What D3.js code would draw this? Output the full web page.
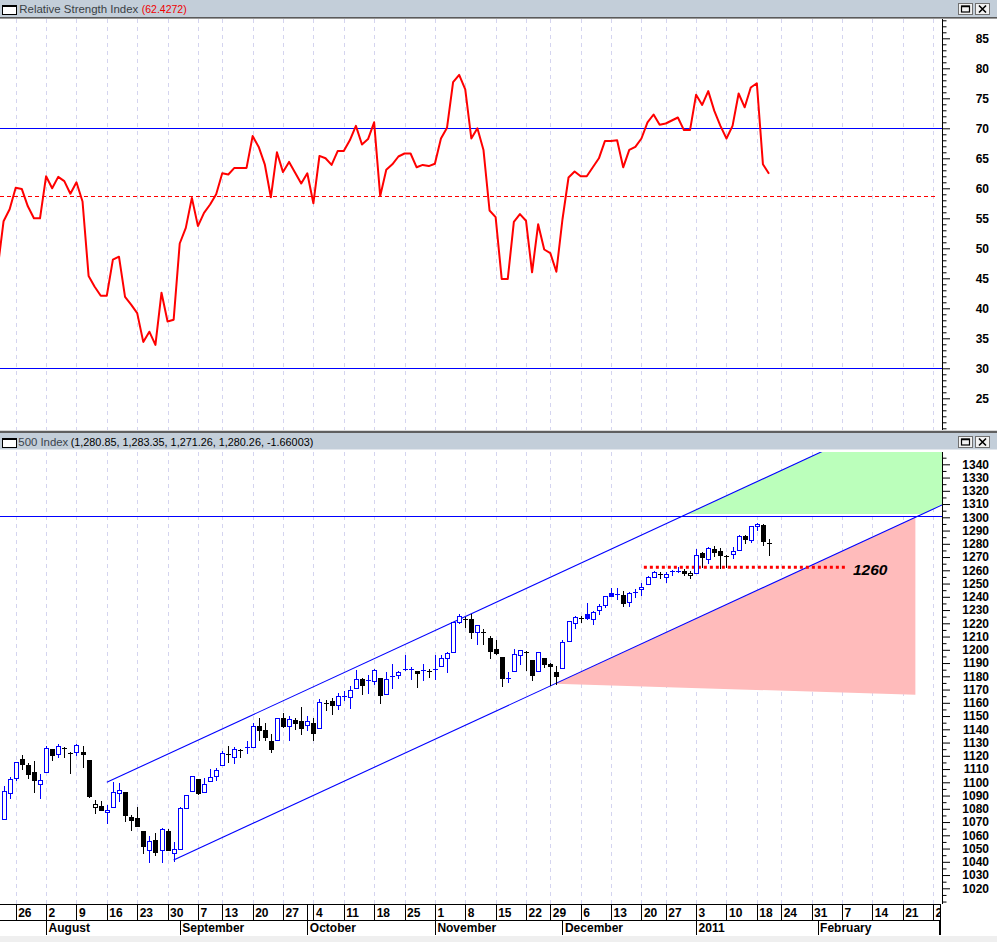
<!DOCTYPE html>
<html><head><meta charset="utf-8">
<script src="https://cdn.jsdelivr.net/npm/d3@7"></script>
<style>
html,body{margin:0;padding:0;background:#fff;}
svg{display:block;}
</style></head><body>
<svg id="chart" width="997" height="942"></svg>
<script>
// ---------------- DATA ----------------
const dates = [
"2010-07-21","2010-07-22","2010-07-23","2010-07-26","2010-07-27","2010-07-28","2010-07-29","2010-07-30",
"2010-08-02","2010-08-03","2010-08-04","2010-08-05","2010-08-06","2010-08-09","2010-08-10","2010-08-11","2010-08-12","2010-08-13",
"2010-08-16","2010-08-17","2010-08-18","2010-08-19","2010-08-20","2010-08-23","2010-08-24","2010-08-25","2010-08-26","2010-08-27","2010-08-30","2010-08-31",
"2010-09-01","2010-09-02","2010-09-03","2010-09-07","2010-09-08","2010-09-09","2010-09-10","2010-09-13","2010-09-14","2010-09-15","2010-09-16","2010-09-17",
"2010-09-20","2010-09-21","2010-09-22","2010-09-23","2010-09-24","2010-09-27","2010-09-28","2010-09-29","2010-09-30",
"2010-10-01","2010-10-04","2010-10-05","2010-10-06","2010-10-07","2010-10-08","2010-10-11","2010-10-12","2010-10-13","2010-10-14","2010-10-15",
"2010-10-18","2010-10-19","2010-10-20","2010-10-21","2010-10-22","2010-10-25","2010-10-26","2010-10-27","2010-10-28","2010-10-29",
"2010-11-01","2010-11-02","2010-11-03","2010-11-04","2010-11-05","2010-11-08","2010-11-09","2010-11-10","2010-11-11","2010-11-12",
"2010-11-15","2010-11-16","2010-11-17","2010-11-18","2010-11-19","2010-11-22","2010-11-23","2010-11-24","2010-11-26","2010-11-29","2010-11-30",
"2010-12-01","2010-12-02","2010-12-03","2010-12-06","2010-12-07","2010-12-08","2010-12-09","2010-12-10","2010-12-13","2010-12-14","2010-12-15","2010-12-16","2010-12-17",
"2010-12-20","2010-12-21","2010-12-22","2010-12-23","2010-12-27","2010-12-28","2010-12-29","2010-12-30","2010-12-31",
"2011-01-03","2011-01-04","2011-01-05","2011-01-06","2011-01-07","2011-01-10","2011-01-11","2011-01-12","2011-01-13","2011-01-14",
"2011-01-18","2011-01-19","2011-01-20"];

const open = [
1086.67,1072.14,1092.17,1102.89,1117.36,1112.84,1108.07,1098.44,
1107.53,1125.34,1121.06,1125.78,1122.07,1122.80,1122.92,1116.89,1081.48,1082.22,
1077.49,1081.16,1092.08,1092.44,1073.63,1073.36,1063.20,1048.98,1056.28,1049.27,1062.90,1046.88,
1049.72,1080.66,1093.61,1102.60,1092.36,1101.15,1104.57,1113.38,1121.16,1119.43,1123.89,1126.39,
1126.57,1142.82,1139.49,1131.10,1131.69,1148.64,1142.31,1146.75,1145.97,
1143.49,1144.96,1140.68,1159.81,1161.57,1158.36,1165.32,1164.28,1171.32,1177.82,1177.47,
1176.83,1178.64,1166.74,1179.56,1180.63,1184.74,1184.88,1183.84,1184.47,1183.87,
1185.71,1187.86,1193.79,1198.34,1221.20,1223.24,1223.59,1213.14,1213.04,1209.07,
1200.44,1194.79,1178.33,1183.75,1196.12,1198.07,1192.51,1183.70,1194.16,1189.08,1182.96,
1186.60,1206.81,1219.93,1223.87,1227.25,1223.24,1230.14,1233.85,1242.52,1241.84,1241.58,1236.34,1243.63,
1245.76,1249.43,1254.94,1257.53,1254.66,1259.10,1258.78,1259.44,1256.76,
1257.62,1272.95,1268.78,1276.29,1274.41,1270.84,1272.58,1275.65,1285.78,1282.90,
1293.22,1294.52,1280.85];

const high = [
1088.96,1097.50,1103.73,1115.20,1120.95,1114.66,1115.90,1106.44,
1127.30,1125.44,1128.75,1126.56,1123.06,1129.24,1127.16,1116.89,1086.72,1086.25,
1082.62,1100.14,1099.77,1092.44,1075.63,1081.58,1063.20,1059.38,1061.45,1065.21,1064.40,1055.14,
1081.30,1090.10,1105.10,1102.60,1103.26,1110.27,1110.88,1123.87,1127.36,1126.46,1125.44,1131.47,
1144.86,1148.59,1144.38,1136.77,1148.90,1152.38,1150.00,1148.63,1157.16,
1150.30,1148.16,1162.76,1162.33,1163.87,1167.73,1168.68,1172.58,1184.38,1178.89,1181.20,
1185.53,1178.64,1182.94,1189.43,1183.93,1196.14,1187.11,1183.84,1189.53,1185.46,
1195.81,1195.88,1198.30,1221.25,1227.08,1224.57,1226.84,1218.75,1215.45,1210.50,
1207.43,1194.79,1183.56,1200.29,1199.97,1198.94,1192.51,1198.62,1194.16,1190.34,1187.40,
1207.61,1221.89,1225.57,1225.80,1235.05,1228.93,1234.71,1240.40,1246.73,1246.59,1244.25,1243.75,1245.81,
1250.20,1255.82,1259.39,1258.59,1258.43,1259.90,1262.60,1261.09,1259.34,
1276.17,1274.12,1277.63,1278.17,1276.83,1271.52,1277.25,1286.87,1286.70,1293.24,
1296.06,1294.60,1283.35];

const low = [
1065.25,1072.14,1087.88,1101.83,1109.78,1103.11,1092.82,1088.01,
1107.53,1116.76,1119.46,1118.81,1107.17,1120.91,1111.58,1088.55,1076.69,1079.00,
1069.49,1081.16,1085.76,1070.66,1063.91,1067.08,1046.68,1039.83,1045.40,1039.70,1048.79,1040.88,
1049.72,1080.39,1093.61,1091.15,1092.36,1101.15,1101.81,1113.38,1115.58,1114.63,1118.88,1122.43,
1126.57,1131.87,1131.58,1122.79,1131.69,1141.68,1132.09,1140.26,1136.08,
1139.42,1131.87,1140.68,1154.85,1151.41,1155.58,1162.02,1155.71,1171.32,1166.71,1167.12,
1174.55,1159.71,1166.74,1171.17,1178.99,1184.74,1177.72,1171.70,1177.10,1179.70,
1177.65,1187.86,1183.56,1198.34,1220.29,1217.55,1208.94,1204.33,1204.49,1194.08,
1197.15,1173.00,1175.82,1183.75,1189.44,1184.58,1176.91,1183.70,1186.93,1173.64,1174.14,
1186.60,1206.81,1216.82,1220.67,1223.25,1219.50,1226.85,1232.58,1240.34,1238.17,1232.85,1232.85,1239.87,
1241.51,1249.43,1254.94,1254.05,1251.48,1256.22,1258.78,1256.32,1254.19,
1257.62,1262.66,1265.36,1270.43,1261.70,1262.18,1269.62,1275.65,1280.47,1281.24,
1290.16,1278.92,1271.26];

const close = [
1069.59,1093.67,1102.66,1115.01,1113.84,1106.13,1101.53,1101.60,
1125.86,1120.46,1127.24,1125.81,1121.64,1127.79,1121.06,1089.47,1083.61,1079.25,
1079.38,1092.54,1094.16,1075.63,1071.69,1067.36,1051.87,1055.33,1047.22,1064.59,1048.92,1049.33,
1080.29,1090.10,1104.51,1091.84,1098.87,1104.18,1109.55,1121.90,1121.10,1125.07,1124.66,1125.59,
1142.71,1139.78,1134.28,1124.83,1148.67,1142.16,1147.70,1144.73,1141.20,
1146.24,1137.03,1160.75,1159.97,1158.06,1165.15,1165.32,1169.77,1178.10,1173.81,1176.19,
1184.71,1165.90,1178.17,1180.26,1183.08,1185.62,1185.64,1182.45,1183.78,1183.26,
1184.38,1193.57,1197.96,1221.06,1225.85,1223.25,1213.40,1218.71,1213.54,1199.21,
1197.75,1178.34,1178.59,1196.69,1199.73,1197.84,1180.73,1198.35,1189.40,1187.76,1180.55,
1206.07,1221.53,1224.71,1223.12,1223.75,1228.28,1233.00,1240.40,1240.46,1241.59,1235.23,1242.87,1243.91,
1247.08,1254.60,1258.84,1256.77,1257.54,1258.51,1259.78,1257.88,1257.64,
1271.87,1270.20,1276.56,1273.85,1271.50,1269.75,1274.48,1285.96,1283.76,1293.24,
1295.02,1281.92,1280.26];
const priorClose = 1083.48; // close of the session before the first candle

const rsi = [
46.4,54.5,56.5,60.1,59.9,57.0,55.0,55.0,
62.0,60.0,61.9,61.2,59.1,61.0,57.8,45.4,43.6,42.1,42.1,48.1,48.6,41.9,40.6,39.2,34.4,36.1,33.9,42.6,37.8,38.1,
50.8,53.4,58.4,53.7,55.9,57.3,59.0,62.5,62.3,63.4,63.4,63.4,68.7,66.9,64.0,58.5,66.0,62.7,64.4,62.6,60.8,
62.5,57.5,65.4,65.0,63.9,66.2,66.2,68.0,70.4,67.3,68.2,71.0,58.7,63.1,64.0,65.3,65.8,65.8,63.5,63.9,63.7,
64.1,68.3,70.1,77.7,78.9,76.5,68.3,70.0,66.4,56.3,55.2,44.9,44.9,54.4,55.7,54.6,46.0,54.0,49.8,49.2,46.1,
54.8,61.8,62.8,62.0,62.0,63.5,65.0,67.9,67.9,68.0,63.5,66.4,66.9,68.3,71.0,72.3,70.6,70.8,71.3,71.8,69.7,69.7,
75.6,73.9,76.2,72.9,70.4,68.3,70.4,75.8,73.5,76.8,77.5,64.0,62.4272];

const rsiTickLabels = [25,30,35,40,45,50,55,60,65,70,75,80,85];
const priceTickLabels = [1020,1030,1040,1050,1060,1070,1080,1090,1100,1110,1120,1130,1140,1150,1160,1170,1180,1190,
  1200,1210,1220,1230,1240,1250,1260,1270,1280,1290,1300,1310,1320,1330,1340];
const monthNames = ["January","February","March","April","May","June","July","August","September","October","November","December"];

const rsiBands = [70, 30];
const rsiSignal = 58.6;
const resistance = 1300;
const support = {from:"2010-12-20", to:"2011-02-07", price:1262.3, label:"1260"};
const upperChannel = [["2010-08-16",1100.0],["2011-01-26",1339.6]];
const lowerChannel = [["2010-08-31",1041.4],["2011-02-23",1299.8]];
const greenFloor = 1302.5;
const pinkStart = "2010-11-30";
const pinkFloorRight = 1166;

const headerRsi = {name:"Relative Strength Index", value:"(62.4272)"};
const headerPrice = {name:"500 Index", value:"(1,280.85, 1,283.35, 1,271.26, 1,280.26, -1.66003)"};

// ---------------- CALENDAR ----------------
const parse = d3.utcParse("%Y-%m-%d");
const dataDays = dates.map(parse);
const calendar = [];
let dd = parse("2010-07-19");
while (dd < dataDays[0]) { if (dd.getUTCDay() % 6) calendar.push(dd); dd = d3.utcDay.offset(dd, 1); }
const dataOffset = calendar.length;
calendar.push(...dataDays);
dd = d3.utcDay.offset(dataDays[dataDays.length - 1], 1);
const calEnd = parse("2011-03-04");
while (dd <= calEnd) { if (dd.getUTCDay() % 6) calendar.push(dd); dd = d3.utcDay.offset(dd, 1); }
const idxOf = s => calendar.findIndex(c => +c === +parse(s));

// ---------------- LAYOUT ----------------
const W = 997, H = 942, AX = 942;
const rsiTop = 19, rsiBot = 430, pTop = 452, pBot = 904;
const FONT = "Liberation Sans, Arial, Helvetica, sans-serif";
const BLUE = "#0000ff", RED = "#ff0000";

const x = d3.scaleLinear().domain([idxOf("2010-07-26"), idxOf("2011-01-20")]).range([15.7, 769]);
const yP = d3.scaleLinear().domain([1020, 1340]).range([888.3, 464.3]);
const yR = d3.scaleLinear().domain([30, 70]).range([368.3, 128.3]);

const svg = d3.select("#chart");
svg.append("rect").attr("width", W).attr("height", H).attr("fill", "#fff");
const defs = svg.append("defs");
defs.append("clipPath").attr("id", "cR").append("rect").attr("x", 0).attr("y", rsiTop).attr("width", AX).attr("height", rsiBot - rsiTop);
defs.append("clipPath").attr("id", "cP").append("rect").attr("x", 0).attr("y", pTop).attr("width", AX).attr("height", pBot - pTop);
defs.append("clipPath").attr("id", "cX").append("rect").attr("x", 0).attr("y", 900).attr("width", 941).attr("height", 40);

const crisp = v => Math.round(v) + 0.5;
const evenRow = v => 2 * Math.floor(v / 2) + 0.5;   // horizontal reference rules sit on a pixel row

const weekStarts = [], monthStarts = [];
calendar.forEach((c, i) => {
  if (i === 0 || c.getUTCDay() < calendar[i - 1].getUTCDay()) weekStarts.push(i);
  if (i > 0 && c.getUTCMonth() !== calendar[i - 1].getUTCMonth()) monthStarts.push(i);
});

// ---------------- GRID ----------------
function grid(top, bot, clip) {
  svg.append("g").attr("clip-path", `url(#${clip})`).selectAll("line").data(weekStarts).join("line")
    .attr("x1", i => crisp(x(i))).attr("x2", i => crisp(x(i)))
    .attr("y1", top).attr("y2", bot)
    .style("stroke", "#d4d4ef").style("stroke-width", 1).style("stroke-dasharray", "4,4");
}
grid(rsiTop, rsiBot, "cR");
grid(pTop, pBot, "cP");

// ---------------- RSI PANEL ----------------
const gR = svg.append("g").attr("clip-path", "url(#cR)");
gR.selectAll("line.band").data(rsiBands).join("line").attr("class", "band")
  .attr("x1", 0).attr("x2", AX).attr("y1", d => evenRow(yR(d))).attr("y2", d => evenRow(yR(d)))
  .style("stroke", BLUE).style("stroke-width", 1);
gR.append("path").datum(rsi)
  .attr("d", d3.line().x((v, k) => x(dataOffset + k)).y(v => yR(v)))
  .style("fill", "none").style("stroke", RED).style("stroke-width", 2).style("stroke-linejoin", "round");
gR.append("path").attr("class", "signal")
  .attr("d", `M0,${evenRow(yR(rsiSignal))}H938`)
  .style("fill", "none").style("stroke", RED).style("stroke-width", 1).style("stroke-dasharray", "4,3");

// ---------------- PRICE PANEL ----------------
const gP = svg.append("g").attr("clip-path", "url(#cP)");
function lineFn(anchors) {
  const i0 = idxOf(anchors[0][0]), i1 = idxOf(anchors[1][0]);
  const p0 = anchors[0][1], p1 = anchors[1][1];
  const slope = (p1 - p0) / (i1 - i0);
  return { start: i0, at: i => p0 + (i - i0) * slope, inv: p => i0 + (p - p0) / slope };
}
const up = lineFn(upperChannel), lo = lineFn(lowerChannel);
const iEnd = calendar.length + 5;
const pline = d3.line().x(d => x(d[0])).y(d => yP(d[1]));

const green = [[up.inv(greenFloor), greenFloor], [iEnd, up.at(iEnd)], [iEnd, lo.at(iEnd)], [lo.inv(greenFloor), greenFloor]];
gP.append("path").attr("d", pline(green) + "Z").style("fill", "#bbffbb").style("stroke", "none");
const pinkI0 = idxOf(pinkStart) - 0.2, pinkI1 = lo.inv(resistance);
const pink = [[pinkI0, lo.at(pinkI0)], [pinkI1, resistance], [pinkI1, pinkFloorRight]];
gP.append("path").attr("d", pline(pink) + "Z").style("fill", "#ffbbbb").style("stroke", "none");

[up, lo].forEach(L => {
  gP.append("path").attr("d", pline([[L.start, L.at(L.start)], [iEnd, L.at(iEnd)]]))
    .style("fill", "none").style("stroke", BLUE).style("stroke-width", 1.1);
});
const sI0 = idxOf(support.from) + 0.4, sI1 = idxOf(support.to) + 0.5;
gP.append("path").attr("d", `M${x(sI0)},${yP(support.price)}H${x(sI1)}`)
  .style("fill", "none").style("stroke", RED).style("stroke-width", 3).style("stroke-dasharray", "3,3");
svg.append("text").attr("x", x(sI1) + 8).attr("y", yP(support.price) + 8)
  .style("font-family", FONT).style("font-size", "15.5px").style("font-weight", "bold").style("font-style", "italic")
  .style("fill", "#000").text(support.label);

const candles = dates.map((s, k) => ({
  i: dataOffset + k, o: open[k], h: high[k], l: low[k], c: close[k],
  pc: k > 0 ? close[k - 1] : priorClose
}));
const gC = gP.append("g");
candles.forEach(d => {
  const cx = crisp(x(d.i));
  const col = d.c >= d.pc ? BLUE : "#000";
  const yo = yP(d.o), yc = yP(d.c);
  const top = Math.round(Math.min(yo, yc)), bot = Math.round(Math.max(yo, yc));
  gC.append("line").attr("x1", cx).attr("x2", cx).attr("y1", Math.round(yP(d.h))).attr("y2", Math.round(yP(d.l)) + 1)
    .style("stroke", col).style("stroke-width", 1);
  if (bot - top < 2) {
    gC.append("line").attr("x1", cx - 2.5).attr("x2", cx + 2.5).attr("y1", top + 0.5).attr("y2", top + 0.5)
      .style("stroke", col).style("stroke-width", 1);
  } else if (d.c > d.o) {
    gC.append("rect").attr("x", cx - 2).attr("y", top + 0.5).attr("width", 4).attr("height", bot - top)
      .style("fill", "#fff").style("stroke", col).style("stroke-width", 1);
  } else {
    gC.append("rect").attr("x", cx - 2.5).attr("y", top).attr("width", 5).attr("height", bot - top + 1)
      .style("fill", col);
  }
});

gP.append("path").attr("class", "resistance")
  .attr("d", `M0,${evenRow(yP(resistance))}H${AX}`)
  .style("fill", "none").style("stroke", BLUE).style("stroke-width", 1);

// ---------------- Y AXES ----------------
function yAxis(scale, labels, minorStep, top, bot) {
  const vLo = Math.min(scale.invert(top), scale.invert(bot)), vHi = Math.max(scale.invert(top), scale.invert(bot));
  const minors = d3.range(Math.ceil(vLo / minorStep) * minorStep, vHi, minorStep).filter(v => !labels.includes(v));
  const g1 = svg.append("g").attr("transform", `translate(${AX},0)`)
    .call(d3.axisRight(scale).tickValues(minors).tickSize(4.5).tickSizeOuter(0).tickFormat(""));
  g1.select(".domain").remove();
  const g2 = svg.append("g").attr("transform", `translate(${AX},0)`)
    .call(d3.axisRight(scale).tickValues(labels).tickSize(8).tickSizeOuter(0).tickFormat(d3.format("d")));
  g2.select(".domain").remove();
  g2.selectAll("text").attr("x", 47).attr("text-anchor", "end")
    .style("font-family", FONT).style("font-size", "12px").style("font-weight", "bold").style("fill", "#000");
  [g1, g2].forEach(g => g.selectAll(".tick line").style("stroke", "#000"));
  svg.append("line").attr("x1", AX + 0.5).attr("x2", AX + 0.5).attr("y1", top).attr("y2", bot).style("stroke", "#000");
}
yAxis(yR, rsiTickLabels, 1, rsiTop, rsiBot);
yAxis(yP, priceTickLabels, 5, pTop, pBot);

// ---------------- HEADERS ----------------
function header(y0, h, info, widths, valueColor, nameColor) {
  svg.append("rect").attr("x", 0).attr("y", y0).attr("width", W).attr("height", h).style("fill", "#c3ced9");
  svg.append("rect").attr("x", 2.5).attr("y", y0 + 5.5).attr("width", 14).attr("height", 9)
    .style("fill", "#fff").style("stroke", "#000").style("stroke-width", 1);
  svg.append("line").attr("x1", 2).attr("x2", 17).attr("y1", y0 + 6).attr("y2", y0 + 6).style("stroke", "#000").style("stroke-width", 2);
  svg.append("text").attr("x", widths[0]).attr("y", y0 + 13).attr("textLength", widths[1]).attr("lengthAdjust", "spacingAndGlyphs")
    .style("font-family", FONT).style("font-size", "11.5px").style("fill", nameColor).text(info.name);
  svg.append("text").attr("x", widths[2]).attr("y", y0 + 13).attr("textLength", widths[3]).attr("lengthAdjust", "spacingAndGlyphs")
    .style("font-family", FONT).style("font-size", "11.5px").style("fill", valueColor).text(info.value);
  [958.5, 975.5].forEach((bx, k) => {
    svg.append("rect").attr("x", bx).attr("y", y0 + 3.5).attr("width", 14).attr("height", 11)
      .style("fill", "#f2f2f2").style("stroke", "#707070");
    if (k === 0) {
      svg.append("rect").attr("x", bx + 3).attr("y", y0 + 6).attr("width", 8).attr("height", 6)
        .style("fill", "none").style("stroke", "#000").style("stroke-width", 1.2);
      svg.append("line").attr("x1", bx + 3).attr("x2", bx + 11).attr("y1", y0 + 6.5).attr("y2", y0 + 6.5).style("stroke", "#000").style("stroke-width", 1.5);
    } else {
      svg.append("path").attr("d", `M${bx + 3.5},${y0 + 5.5}L${bx + 10.5},${y0 + 12.5}M${bx + 10.5},${y0 + 5.5}L${bx + 3.5},${y0 + 12.5}`)
        .style("stroke", "#000").style("stroke-width", 1.6);
    }
  });
}
header(0, 17, headerRsi, [19.3, 119, 141.7, 45], "#f00000", "#3a3f45");
svg.append("rect").attr("x", 0).attr("y", 17).attr("width", W).attr("height", 1.6).style("fill", "#5a5a5a");
svg.append("rect").attr("x", 0).attr("y", 430).attr("width", W).attr("height", 1).style("fill", "#d8d8d8");
svg.append("rect").attr("x", 0).attr("y", 431).attr("width", W).attr("height", 2).style("fill", "#5f5f5f");
header(433, 16.5, headerPrice, [18.3, 50, 70.7, 242.6], "#000", "#3a444e");

// ---------------- X AXIS ----------------
const gX = svg.append("g").attr("clip-path", "url(#cX)");
const yA0 = 904, yA1 = 920, yA2 = 935;
gX.selectAll("line.m").data(monthStarts).join("line").attr("class", "m")
  .attr("x1", i => crisp(x(i))).attr("x2", i => crisp(x(i))).attr("y1", yA0).attr("y2", yA2)
  .style("stroke", "#000");
const visibleWeeks = weekStarts.filter(i => x(i) >= 0);
const wk = gX.selectAll("g.w").data(visibleWeeks).join("g").attr("class", "w");
wk.append("rect").attr("class", "bg").attr("y", yA0 + 1).attr("height", yA1 - yA0 - 1).style("fill", "#fff");
wk.append("text").attr("x", i => x(i) + 2.5).attr("y", 917)
  .style("font-family", FONT).style("font-size", "12px").style("font-weight", "bold").style("fill", "#000")
  .text(i => calendar[i].getUTCDate());
wk.each(function (i) {
  const g = d3.select(this);
  const tw = g.select("text").node().getComputedTextLength();
  g.select("rect.bg").attr("x", x(i) + 1.5).attr("width", tw + 2);
});
wk.append("line").attr("x1", i => crisp(x(i))).attr("x2", i => crisp(x(i))).attr("y1", yA0).attr("y2", yA1).style("stroke", "#000");
gX.selectAll("text.m").data(monthStarts).join("text").attr("class", "m")
  .attr("x", i => x(i) + 2.5).attr("y", 932)
  .style("font-family", FONT).style("font-size", "12px").style("font-weight", "bold").style("fill", "#000")
  .text(i => calendar[i].getUTCMonth() === 0 ? String(calendar[i].getUTCFullYear()) : monthNames[calendar[i].getUTCMonth()]);
svg.append("line").attr("x1", 0).attr("x2", 941).attr("y1", yA0 + 0.5).attr("y2", yA0 + 0.5).style("stroke", "#000");
svg.append("line").attr("x1", 0).attr("x2", 941).attr("y1", yA1 + 0.5).attr("y2", yA1 + 0.5).style("stroke", "#000");
svg.append("line").attr("x1", 940.5).attr("x2", 940.5).attr("y1", yA0).attr("y2", yA2).style("stroke", "#000");
svg.append("rect").attr("x", 0).attr("y", 936).attr("width", W).attr("height", 6).style("fill", "#efefef");
</script>
</body></html>
